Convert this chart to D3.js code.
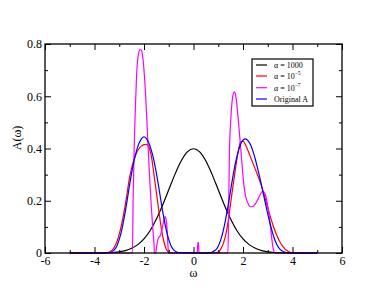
<!DOCTYPE html>
<html>
<head>
<meta charset="utf-8">
<script src="https://cdn.jsdelivr.net/npm/d3@7"></script>
<style>
  body { margin: 0; background: #fff; }
  svg { font-family: "Liberation Serif", "Times New Roman", serif; }
</style>
</head>
<body>
<div id="chart-container"></div>
<script>
// tick values
const xMajor = [-6, -4, -2, 0, 2, 4, 6];
const xMinor = [-5, -3, -1, 1, 3, 5];
const yMajor = [0, 0.2, 0.4, 0.6, 0.8];
const yMinor = [0.1, 0.3, 0.5, 0.7];

// alpha = 1000 (black)
const blackW = [-5, -4.75, -4.5, -4.25, -4, -3.75, -3.5, -3.25, -3, -2.75, -2.5, -2.25, -2, -1.75, -1.5, -1.25, -1, -0.75, -0.5, -0.25,
  0, 0.25, 0.5, 0.75, 1, 1.25, 1.5, 1.75, 2, 2.25, 2.5, 2.75, 3, 3.25, 3.5, 3.75, 4, 4.25, 4.5, 4.75, 5];
const blackA = [0, 0, 0, 0, 0.0001, 0.0004, 0.0009, 0.002, 0.0044, 0.009, 0.018, 0.032, 0.054, 0.086, 0.13, 0.183, 0.242, 0.301, 0.352, 0.387,
  0.399, 0.387, 0.352, 0.301, 0.242, 0.183, 0.13, 0.086, 0.054, 0.032, 0.018, 0.009, 0.0044, 0.002, 0.0009, 0.0004, 0.0001, 0, 0, 0, 0];

// shared grid for red and blue
const gridW = [-5,
  -3.6, -3.5, -3.4, -3.3, -3.2, -3.1, -3.0, -2.9, -2.8, -2.7, -2.6, -2.5, -2.4, -2.3, -2.2, -2.1,
  -2.0, -1.9, -1.8, -1.7, -1.6, -1.5, -1.4, -1.3, -1.2, -1.1, -1.0, -0.9, -0.8, -0.7, -0.6, -0.5,
  0.5, 0.6, 0.7, 0.8, 0.9, 1.0, 1.1, 1.2, 1.3, 1.4, 1.5, 1.6, 1.7, 1.8, 1.9, 2.0, 2.1, 2.2,
  2.3, 2.4, 2.5, 2.6, 2.7, 2.8, 2.9, 3.0, 3.1, 3.2, 3.3, 3.4, 3.5, 3.6, 3.7, 3.8, 3.9, 4.0,
  5];

// alpha = 1e-5 (red)
const redA = [0,
  0, 0.001, 0.004, 0.010, 0.022, 0.042, 0.072, 0.112, 0.160, 0.218, 0.280, 0.325, 0.358, 0.383, 0.400, 0.410,
  0.415, 0.416, 0.405, 0.370, 0.302, 0.232, 0.160, 0.095, 0.045, 0.014, 0.003, 0, 0, 0, 0, 0,
  0, 0, 0, 0, 0.001, 0.004, 0.015, 0.035, 0.068, 0.120, 0.190, 0.260, 0.325, 0.385, 0.425, 0.428, 0.414, 0.392,
  0.368, 0.344, 0.320, 0.296, 0.270, 0.240, 0.207, 0.173, 0.140, 0.110, 0.083, 0.060, 0.041, 0.026, 0.015, 0.008, 0.003, 0.001,
  0];

// original A (blue)
const blueA = [0,
  0, 0.001, 0.002, 0.005, 0.012, 0.026, 0.052, 0.088, 0.135, 0.190, 0.250, 0.306, 0.355, 0.392, 0.420, 0.438,
  0.445, 0.438, 0.420, 0.392, 0.355, 0.306, 0.250, 0.190, 0.135, 0.088, 0.052, 0.026, 0.012, 0.005, 0.002, 0.001,
  0, 0.001, 0.002, 0.006, 0.012, 0.026, 0.050, 0.085, 0.130, 0.183, 0.240, 0.297, 0.347, 0.386, 0.415, 0.432, 0.437, 0.430,
  0.415, 0.390, 0.358, 0.320, 0.280, 0.236, 0.192, 0.150, 0.110, 0.075, 0.047, 0.027, 0.014, 0.007, 0.003, 0.001, 0, 0,
  0];

// alpha = 1e-7 (magenta)
const magW = [-5, -2.5, -2.47, -2.44, -2.40, -2.35, -2.30, -2.25, -2.20, -2.15, -2.10, -2.05, -2.00, -1.95, -1.90, -1.85,
  -1.80, -1.75, -1.70, -1.65, -1.60, -1.58, -1.53, -1.48, -1.42, -1.35, -1.30, -1.25, -1.20, -1.15, -1.10, -1.06, -1.03, -1.00,
  0.10, 0.15, 0.18, 0.20, 0.22, 0.25,
  1.36, 1.39, 1.42, 1.45, 1.50, 1.55, 1.60, 1.65, 1.70, 1.75, 1.80, 1.85, 1.90, 1.95, 2.00, 2.05, 2.10, 2.20, 2.30, 2.40,
  2.50, 2.60, 2.70, 2.80, 2.90, 3.00, 3.10, 3.17, 3.23, 3.30, 5.0];
const magA = [0, 0, 0, 0.20, 0.39, 0.55, 0.68, 0.745, 0.772, 0.78, 0.775, 0.75, 0.70, 0.63, 0.54, 0.44,
  0.34, 0.25, 0.17, 0.10, 0.04, 0, 0, 0.03, 0.057, 0.065, 0.08, 0.10, 0.125, 0.139, 0.125, 0.08, 0.025, 0,
  0, 0.005, 0.041, 0.041, 0.005, 0,
  0, 0, 0.15, 0.38, 0.50, 0.57, 0.607, 0.617, 0.605, 0.57, 0.52, 0.465, 0.41, 0.35, 0.295, 0.25, 0.22, 0.19, 0.177, 0.178,
  0.188, 0.205, 0.225, 0.237, 0.225, 0.18, 0.11, 0.05, 0.012, 0, 0];

const series = [
  { name: "1000", w: blackW, a: blackA, color: "#000000" },
  { name: "-5", w: gridW, a: redA, color: "#ff0000" },
  { name: "-7", w: magW, a: magA, color: "#ff00ff" },
  { name: "orig", w: gridW, a: blueA, color: "#0000ff" }
];

const width = 385, height = 298;
const marginLeft = 45, marginRight = 43, marginTop = 44, marginBottom = 45;

const svg = d3.select("#chart-container").append("svg")
  .attr("width", width).attr("height", height);

const x = d3.scaleLinear().domain([-6, 6]).range([marginLeft, width - marginRight]);
const y = d3.scaleLinear().domain([0, 0.8]).range([height - marginBottom, marginTop]);

// curves
const line = d3.line().x(d => x(d[0])).y(d => y(d[1])).curve(d3.curveMonotoneX);
const plot = svg.append("g");
series.forEach(s => {
  const pts = s.w.map((w, i) => [w, s.a[i]]);
  plot.append("path").datum(pts)
    .attr("fill", "none").attr("stroke", s.color).attr("stroke-width", 1.2)
    .attr("d", line);
});

// axes, ticks pointing inward on all sides
const fmt = d => String(d);
function styleAxis(g) {
  g.select(".domain").remove();
  g.selectAll("line").attr("stroke", "#000");
  g.selectAll("text").attr("fill", "#000").style("font-size", "12px")
    .style("font-family", "'Liberation Serif', serif");
}
const yb = height - marginBottom, xr = width - marginRight;

svg.append("g").attr("transform", `translate(0,${yb})`)
  .call(d3.axisBottom(x).tickValues(xMajor).tickSize(-6).tickPadding(3).tickFormat(fmt)).call(styleAxis);
svg.append("g").attr("transform", `translate(0,${yb})`)
  .call(d3.axisBottom(x).tickValues(xMinor).tickSize(-3).tickFormat("")).call(styleAxis);
svg.append("g").attr("transform", `translate(0,${marginTop})`)
  .call(d3.axisTop(x).tickValues(xMajor).tickSize(-6).tickFormat("")).call(styleAxis);
svg.append("g").attr("transform", `translate(0,${marginTop})`)
  .call(d3.axisTop(x).tickValues(xMinor).tickSize(-3).tickFormat("")).call(styleAxis);

svg.append("g").attr("transform", `translate(${marginLeft},0)`)
  .call(d3.axisLeft(y).tickValues(yMajor).tickSize(-6).tickPadding(3).tickFormat(fmt)).call(styleAxis);
svg.append("g").attr("transform", `translate(${marginLeft},0)`)
  .call(d3.axisLeft(y).tickValues(yMinor).tickSize(-3).tickFormat("")).call(styleAxis);
svg.append("g").attr("transform", `translate(${xr},0)`)
  .call(d3.axisRight(y).tickValues(yMajor).tickSize(-6).tickFormat("")).call(styleAxis);
svg.append("g").attr("transform", `translate(${xr},0)`)
  .call(d3.axisRight(y).tickValues(yMinor).tickSize(-3).tickFormat("")).call(styleAxis);

// frame
svg.append("rect")
  .attr("x", marginLeft).attr("y", marginTop)
  .attr("width", xr - marginLeft).attr("height", yb - marginTop)
  .attr("fill", "none").attr("stroke", "#000").attr("stroke-width", 1.3);

// axis titles
svg.append("text").attr("x", x(0)).attr("y", 277)
  .attr("text-anchor", "middle").style("font-size", "12px").text("ω");
svg.append("text")
  .attr("transform", `translate(21,${138}) rotate(-90)`)
  .attr("text-anchor", "middle").style("font-size", "12px").text("A(ω)");

// legend
const lg = svg.append("g").attr("transform", "translate(252,59)");
lg.append("rect").attr("width", 61).attr("height", 47)
  .attr("fill", "#fff").attr("stroke", "#000").attr("stroke-width", 1.2);
const rowsY = [6, 17, 28.7, 40];
series.forEach((s, i) => {
  lg.append("line").attr("x1", 4).attr("x2", 15).attr("y1", rowsY[i]).attr("y2", rowsY[i])
    .attr("stroke", s.color).attr("stroke-width", 1.2);
  const t = lg.append("text").attr("x", 22).attr("y", rowsY[i]).attr("dy", "0.35em")
    .style("font-size", "8px");
  if (s.name === "1000") t.text("α = 1000");
  else if (s.name === "orig") t.text("Original A");
  else {
    t.append("tspan").text("α = 10");
    t.append("tspan").attr("dy", -3.5).style("font-size", "5.5px").text("\u2212" + s.name.slice(1));
  }
});
</script>
</body>
</html>
